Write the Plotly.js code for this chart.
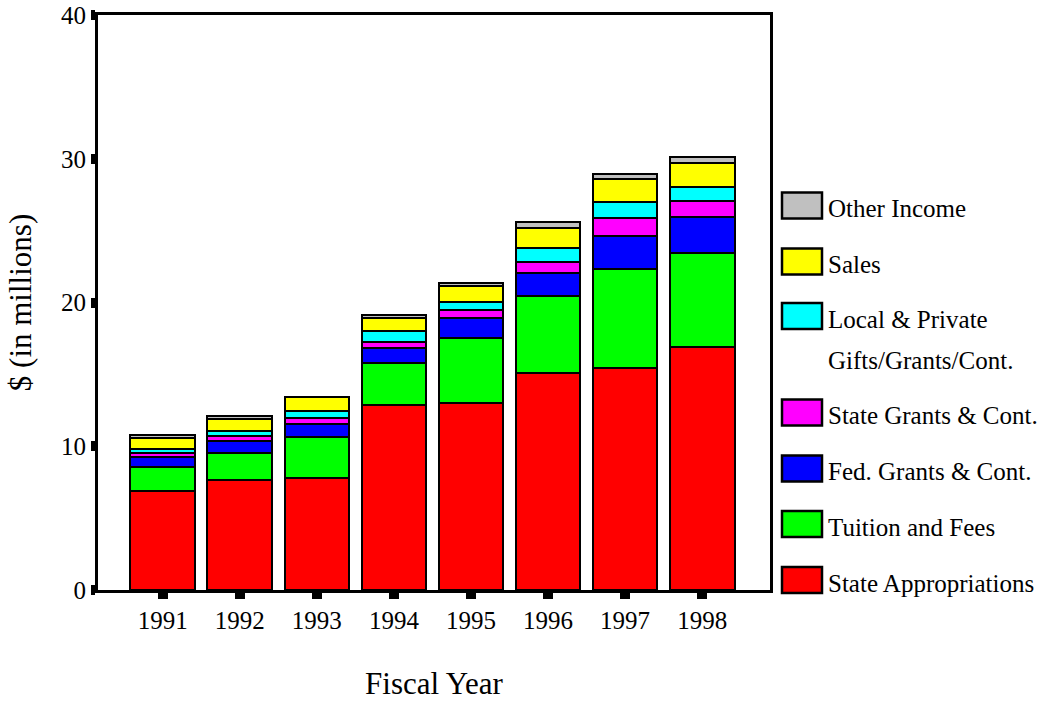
<!DOCTYPE html>
<html>
<head>
<meta charset="utf-8">
<script src="https://cdn.plot.ly/plotly-3.0.1.min.js"></script>
<style>html,body{margin:0;padding:0;background:#fff;}#chart{width:1048px;height:701px;}</style>
</head>
<body>
<div id="chart"></div>
<script>
// ---- data (in $ millions) ----
const years = ["1991","1992","1993","1994","1995","1996","1997","1998"];
const stateAppropriations = [6.89, 7.65, 7.81, 12.87, 13.03, 15.12, 15.46, 16.90];
const tuitionAndFees      = [1.69, 1.86, 2.81, 2.90, 4.48, 5.33, 6.85, 6.52];
const fedGrants           = [0.69, 0.88, 0.93, 1.09, 1.43, 1.62, 2.34, 2.55];
const stateGrants         = [0.23, 0.34, 0.39, 0.41, 0.54, 0.77, 1.21, 1.11];
const localPrivate        = [0.30, 0.33, 0.53, 0.75, 0.58, 0.93, 1.11, 0.98];
const sales               = [0.80, 0.81, 0.93, 0.88, 1.09, 1.43, 1.60, 1.62];
const otherIncome         = [0.15, 0.20, 0.05, 0.23, 0.23, 0.42, 0.37, 0.42];
const yTickVals = [0, 10, 20, 30, 40];

const seriesNames = ["State Appropriations","Tuition and Fees","Fed. Grants & Cont.",
  "State Grants & Cont.","Local & Private<br>Gifts/Grants/Cont.","Sales","Other Income"];
const seriesValues = [stateAppropriations, tuitionAndFees, fedGrants, stateGrants, localPrivate, sales, otherIncome];
const seriesColors = ["#ff0000","#00ff00","#0000ff","#ff00ff","#00ffff","#ffff00","#c0c0c0"];

const FONT = "Liberation Serif, Times New Roman, serif";

const traces = seriesNames.map((n, i) => ({
  type: "bar", x: years, y: seriesValues[i], name: n,
  marker: {color: seriesColors[i], line: {color: "#000", width: 2}},
  showlegend: false, hoverinfo: "x+y+name"
}));

// plot area in pixels (for legend placement)
const L = 98, R = 770, T = 15, B = 590, W = 1048, H = 701;
const px = x => (x - L) / (R - L);
const py = y => (B - y) / (B - T);

// manual legend: top entry = last series
const shapes = [], annotations = [];
const swatchCenters = [580, 524, 468.5, 412.5, 316, 261.5, 205.5];
seriesNames.forEach((n, i) => {
  const cy = swatchCenters[i];
  shapes.push({type: "rect", xref: "paper", yref: "paper",
    x0: px(782), x1: px(822), y0: py(cy + 13), y1: py(cy - 13),
    fillcolor: seriesColors[i], line: {color: "#000", width: 2.5}});
  n.split("<br>").forEach((line, k) => {
    annotations.push({xref: "paper", yref: "paper", x: px(826), y: py(cy + 3 + k * 42),
      xanchor: "left", yanchor: "middle", showarrow: false, text: line,
      font: {family: FONT, size: 25, color: "#000"}});
  });
});

const layout = {
  width: W, height: H,
  margin: {l: L, r: W - R, t: T, b: H - B, pad: 0},
  paper_bgcolor: "#fff", plot_bgcolor: "#fff",
  barmode: "stack", bargap: 0.16,
  font: {family: FONT, size: 25, color: "#000"},
  showlegend: false,
  xaxis: {
    type: "category", range: [-0.84, 7.88],
    showline: true, linecolor: "#000", linewidth: 3, mirror: true,
    ticks: "outside", ticklen: 6, tickwidth: 10, tickcolor: "#000",
    showgrid: false, zeroline: false,
    tickfont: {family: FONT, size: 25},
    title: {text: "Fiscal Year", font: {family: FONT, size: 31}, standoff: 43}
  },
  yaxis: {
    range: [0, 40], tickmode: "array", tickvals: yTickVals,
    showline: true, linecolor: "#000", linewidth: 3, mirror: true,
    ticks: "outside", ticklen: 4, tickwidth: 10, tickcolor: "#000",
    showgrid: false, zeroline: false,
    tickfont: {family: FONT, size: 25},
    title: {text: "$ (in millions)", font: {family: FONT, size: 31}, standoff: 21}
  },
  shapes: shapes,
  annotations: annotations
};

Plotly.newPlot("chart", traces, layout, {displayModeBar: false, staticPlot: true});
</script>
</body>
</html>
